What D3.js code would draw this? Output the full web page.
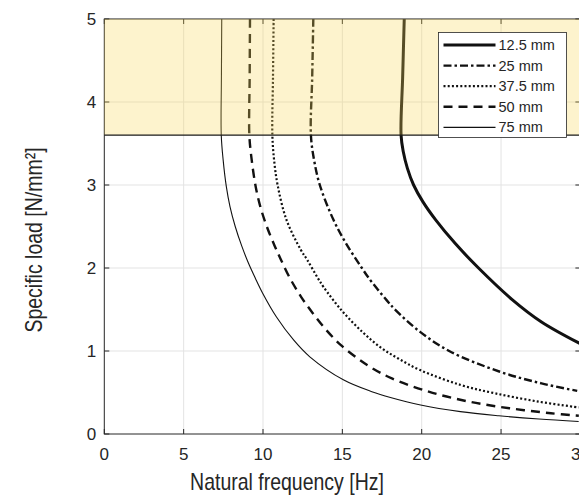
<!DOCTYPE html>
<html><head><meta charset="utf-8">
<script src="https://cdn.jsdelivr.net/npm/d3@7"></script>
<style>html,body{margin:0;padding:0;background:#fff;}svg{display:block;font-family:"Liberation Sans",Arial,sans-serif;}</style>
</head><body>
<script>
// ---- data (frequency Hz, specific load N/mm²) ----
const seriesNames = ["12.5 mm","25 mm","37.5 mm","50 mm","75 mm"];
const s12_5 = [[18.9,5],[18.8,4.3],[18.7,3.6],[18.84,3.4],[19.1,3.2],[19.49,3.0],[20.07,2.8],[20.88,2.58],[22.09,2.3],[23.58,2.0],[25.7,1.62],[27.55,1.35],[29.97,1.09]];
const s25 = [[13.17,5],[13.1,4.3],[13.02,3.6],[13.22,3.3],[13.58,3.0],[14.44,2.58],[15.22,2.3],[16.23,2.0],[16.66,1.88],[17.8,1.61],[18.37,1.49],[19.9,1.23],[21.73,1.0],[24.93,0.75],[27.55,0.61],[29.8,0.52]];
const s37_5 = [[10.67,5],[10.63,4.3],[10.59,3.6],[10.7,3.3],[10.92,3.0],[11.48,2.58],[12.38,2.22],[12.78,2.1],[13.45,1.88],[13.82,1.77],[14.95,1.49],[16.26,1.23],[17.43,1.04],[18.52,0.91],[19.9,0.77],[22.47,0.59],[24.62,0.49],[27.36,0.39],[29.9,0.32]];
const s50 = [[9.18,5],[9.16,4.3],[9.14,3.6],[9.29,3.3],[9.54,2.98],[9.83,2.74],[10.24,2.5],[10.75,2.26],[11.13,2.1],[11.69,1.88],[12.41,1.65],[13.16,1.45],[14.0,1.25],[14.91,1.07],[15.97,0.91],[16.91,0.79],[18.12,0.67],[20.44,0.51],[22.98,0.39],[25.53,0.31],[28.14,0.25],[29.9,0.22]];
const s75 = [[7.4,5],[7.38,4.3],[7.37,3.6],[7.49,3.3],[7.69,2.98],[7.92,2.74],[8.25,2.5],[8.67,2.26],[9.08,2.06],[9.51,1.88],[9.97,1.7],[10.85,1.41],[11.94,1.13],[12.95,0.93],[15.09,0.65],[16.86,0.51],[18.03,0.44],[19.93,0.35],[22.44,0.27],[24.86,0.22],[27.39,0.18],[29.89,0.15]];
const seriesData = [s12_5, s25, s37_5, s50, s75];
const xTicks = [0,5,10,15,20,25,30];
const yTicks = [0,1,2,3,4,5];
const bandRange = [3.6, 5];
const xLabel = "Natural frequency [Hz]";
const yLabel = "Specific load [N/mm²]";

// ---- styles ----
const styles = [
  {w:3, dash:null},
  {w:2.4, dash:"8,3,2.5,3"},
  {w:2.2, dash:"2,2.2"},
  {w:2.4, dash:"9,6"},
  {w:1.1, dash:null}
];

const W = 579, H = 498;
const m = {l:104.3, t:19, r:580.4, b:434};
const svg = d3.select("body").append("svg").attr("width",W).attr("height",H);
const x = d3.scaleLinear().domain([0,30]).range([m.l,m.r]);
const y = d3.scaleLinear().domain([0,5]).range([m.b,m.t]);
const ink = "#262626";

svg.append("defs").append("clipPath").attr("id","clip")
  .append("rect").attr("x",m.l).attr("y",m.t).attr("width",m.r-m.l).attr("height",m.b-m.t);

// grid
const grid = svg.append("g");
grid.selectAll(".gx").data(xTicks.slice(1)).join("line")
  .attr("x1",d=>x(d)).attr("x2",d=>x(d)).attr("y1",m.t).attr("y2",m.b)
  .attr("stroke","#e3e3e3").attr("stroke-width",1);
grid.selectAll(".gy").data(yTicks.slice(1)).join("line")
  .attr("x1",m.l).attr("x2",m.r).attr("y1",d=>y(d)).attr("y2",d=>y(d))
  .attr("stroke","#e3e3e3").attr("stroke-width",1);

// curves
const line = d3.line().x(d=>x(d[0])).y(d=>y(d[1])).curve(d3.curveCatmullRom.alpha(0.5));
const cg = svg.append("g").attr("clip-path","url(#clip)");
seriesData.forEach((s,i)=>{
  cg.append("path").attr("d",line(s)).attr("fill","none").attr("stroke","#111")
    .attr("stroke-width",styles[i].w).attr("stroke-dasharray",styles[i].dash)
    .attr("stroke-linejoin","round");
});

// axes (box with inward ticks)
const ax = svg.append("g");
ax.append("rect").attr("x",m.l).attr("y",m.t).attr("width",m.r-m.l).attr("height",m.b-m.t)
  .attr("fill","none").attr("stroke",ink).attr("stroke-width",1);
const tl = 5;
xTicks.forEach(t=>{
  ax.append("line").attr("x1",x(t)).attr("x2",x(t)).attr("y1",m.b).attr("y2",m.b-tl).attr("stroke",ink);
  ax.append("line").attr("x1",x(t)).attr("x2",x(t)).attr("y1",m.t).attr("y2",m.t+tl).attr("stroke",ink);
  ax.append("text").attr("x",x(t)).attr("y",m.b+26).attr("text-anchor","middle")
    .attr("font-size",17).attr("fill",ink).text(t);
});
yTicks.forEach(t=>{
  ax.append("line").attr("x1",m.l).attr("x2",m.l+tl).attr("y1",y(t)).attr("y2",y(t)).attr("stroke",ink);
  ax.append("line").attr("x1",m.r).attr("x2",m.r-tl).attr("y1",y(t)).attr("y2",y(t)).attr("stroke",ink);
  ax.append("text").attr("x",m.l-8).attr("y",y(t)+6).attr("text-anchor","end")
    .attr("font-size",17).attr("fill",ink).text(t);
});
ax.append("text").attr("transform","translate(287,490) scale(1,1.2)").attr("text-anchor","middle")
  .attr("font-size",19.5).attr("fill",ink).text(xLabel);
ax.append("text").attr("transform","translate(42,240) rotate(-90) scale(1,1.2)")
  .attr("text-anchor","middle").attr("font-size",19.5).attr("fill",ink).text(yLabel);

// shaded band (semi-transparent, over curves)
svg.append("rect").attr("x",m.l).attr("y",y(bandRange[1])).attr("width",m.r-m.l)
  .attr("height",y(bandRange[0])-y(bandRange[1]))
  .attr("fill","rgb(250,215,90)").attr("fill-opacity",0.3);
svg.append("line").attr("x1",m.l).attr("x2",m.r).attr("y1",y(bandRange[0])).attr("y2",y(bandRange[0]))
  .attr("stroke","#1a1a1a").attr("stroke-width",1.2);

// legend
const lg = svg.append("g");
const lx = 438.5, ly = 32.5, lw = 128, lh = 105;
lg.append("rect").attr("x",lx).attr("y",ly).attr("width",lw).attr("height",lh)
  .attr("fill","#fff").attr("stroke",ink).attr("stroke-width",0.8);
seriesNames.forEach((n,i)=>{
  const yy = ly + 12.5 + i*20.6;
  lg.append("line").attr("x1",lx+5).attr("x2",lx+57).attr("y1",yy).attr("y2",yy)
    .attr("stroke","#111").attr("stroke-width",styles[i].w).attr("stroke-dasharray",styles[i].dash);
  lg.append("text").attr("x",lx+60).attr("y",yy+5).attr("font-size",14.5).attr("fill",ink).text(n);
});
</script>
</body></html>
